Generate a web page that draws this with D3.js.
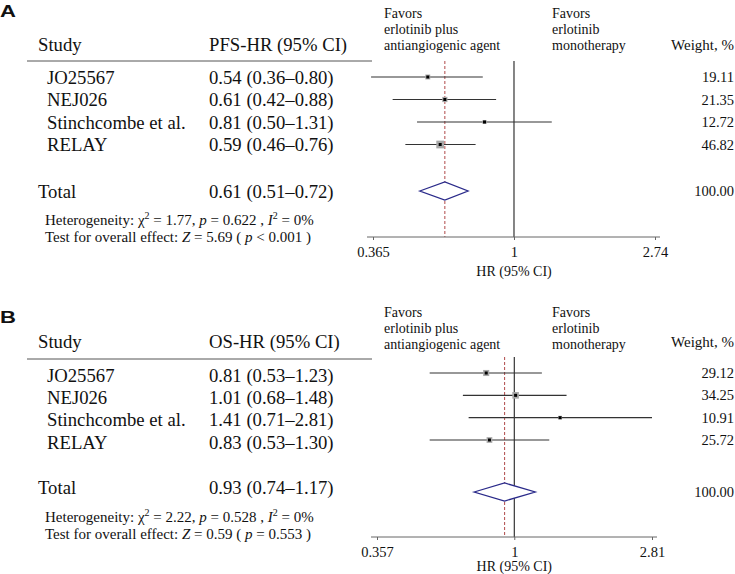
<!DOCTYPE html>
<html><head><meta charset="utf-8">
<script src="https://cdn.jsdelivr.net/npm/d3@7"></script>
<style>
html,body{margin:0;padding:0;background:#fff;}
svg{display:block;}
text{font-family:"Liberation Serif","Times New Roman",serif;fill:#111;}
</style></head>
<body>
<svg id="c" width="735" height="574"></svg>
<script>
// ---------- data ----------
const studies = ["JO25567", "NEJ026", "Stinchcombe et al.", "RELAY"];

const pfsHR = [0.54, 0.61, 0.81, 0.59];
const pfsLow = [0.36, 0.42, 0.50, 0.46];
const pfsHigh = [0.80, 0.88, 1.31, 0.76];
const pfsWeight = [19.11, 21.35, 12.72, 46.82];
const pfsTotal = [0.61, 0.51, 0.72];
const pfsTicks = [0.365, 1, 2.74];
const pfsHet = ["1.77", "0.622", "0%"];
const pfsTest = ["5.69", "<", "0.001"];

const osHR = [0.81, 1.01, 1.41, 0.83];
const osLow = [0.53, 0.68, 0.71, 0.53];
const osHigh = [1.23, 1.48, 2.81, 1.30];
const osWeight = [29.12, 34.25, 10.91, 25.72];
const osTotal = [0.93, 0.74, 1.17];
const osTicks = [0.357, 1, 2.81];
const osHet = ["2.22", "0.528", "0%"];
const osTest = ["0.59", "=", "0.553"];

const panelLabels = ["A", "B"];
const hrHeaders = ["PFS-HR (95% CI)", "OS-HR (95% CI)"];
const favorsLeft = ["Favors", "erlotinib plus", "antiangiogenic agent"];
const favorsRight = ["Favors", "erlotinib", "monotherapy"];

// ---------- layout ----------
const svg = d3.select("#c");
const fmt2 = d3.format(".2f");
const SERIF = "'Liberation Serif','Times New Roman',Times,serif";

const panels = [
  { label: panelLabels[0], header: hrHeaders[0], hr: pfsHR, lo: pfsLow, hi: pfsHigh, w: pfsWeight, total: pfsTotal, ticks: pfsTicks, het: pfsHet, test: pfsTest,
    xr: [373, 655], labelBase: 17, favBase: 18, weightBase: 50, headBase: 51, ruleY: 61, rowY: [77, 144.5], textDy: 6.5, totalY: 191, totalBase: 197.5,
    hetBase: 225, testBase: 242, axisY: 237, tickBase: 19.5, xlabBase: 276, vTop: 61 },
  { label: panelLabels[1], header: hrHeaders[1], hr: osHR, lo: osLow, hi: osHigh, w: osWeight, total: osTotal, ticks: osTicks, het: osHet, test: osTest,
    xr: [377, 652], labelBase: 323, favBase: 317, weightBase: 347, headBase: 347.5, ruleY: 359, rowY: [373, 440], textDy: 8.5, totalY: 492, totalBase: 494,
    hetBase: 522, testBase: 539, axisY: 537, tickBase: 20, xlabBase: 570.5, vTop: 357 }
];

const sizeScale = d3.scaleSqrt().domain([0, 50]).range([0, 8]);

function txt(sel, x, y, size) {
  return sel.append("text").attr("x", x).attr("y", y)
    .attr("font-family", SERIF).style("font-family", SERIF).style("font-size", size + "px");
}

panels.forEach(P => {
  const g = svg.append("g");
  const x = d3.scaleLog().domain([P.ticks[0], P.ticks[2]]).range(P.xr);
  const y = d3.scaleLinear().domain([0, studies.length - 1]).range(P.rowY);

  // panel label
  g.append("text").attr("x", 0).attr("y", P.labelBase)
    .attr("transform", `scale(1.3,1)`)
    .style("font-family", "'Liberation Sans',Arial,sans-serif").style("font-weight", "bold").style("font-size", "17px")
    .text(P.label);

  // headers
  txt(g, 38, P.headBase, 18.7).text("Study");
  txt(g, 209, P.headBase, 18.7).text(P.header);
  g.append("line").attr("x1", 27).attr("x2", 372).attr("y1", P.ruleY).attr("y2", P.ruleY)
    .attr("stroke", "#555").attr("stroke-width", 1);

  // favors
  const fl = txt(g, 384, P.favBase, 14);
  favorsLeft.forEach((t, i) => fl.append("tspan").attr("x", 384).attr("dy", i ? 16 : 0).text(t));
  const fr = txt(g, 552, P.favBase, 14);
  favorsRight.forEach((t, i) => fr.append("tspan").attr("x", 552).attr("dy", i ? 16 : 0).text(t));
  txt(g, 734, P.weightBase, 15).attr("text-anchor", "end").text("Weight, %");

  // rows text
  studies.forEach((s, i) => {
    txt(g, 47, y(i) + P.textDy, 18.7).text(s);
    txt(g, 209, y(i) + P.textDy, 18.7)
      .text(`${fmt2(P.hr[i])} (${fmt2(P.lo[i])}\u2013${fmt2(P.hi[i])})`);
    txt(g, 734, y(i) + 5, 14.5).attr("text-anchor", "end").text(fmt2(P.w[i]));
  });
  txt(g, 38, P.totalBase, 18.7).text("Total");
  txt(g, 209, P.totalBase, 18.7)
    .text(`${fmt2(P.total[0])} (${fmt2(P.total[1])}\u2013${fmt2(P.total[2])})`);
  txt(g, 734, P.totalY + 5, 14.5).attr("text-anchor", "end").text(fmt2(d3.sum(P.w)));

  // heterogeneity
  const h = txt(g, 45, P.hetBase, 15);
  h.append("tspan").text("Heterogeneity: \u03c7");
  h.append("tspan").attr("dy", -6).style("font-size", "10px").text("2");
  h.append("tspan").attr("dy", 6).text(` = ${P.het[0]}, `);
  h.append("tspan").style("font-style", "italic").text("p");
  h.append("tspan").text(` = ${P.het[1]} , `);
  h.append("tspan").style("font-style", "italic").text("I");
  h.append("tspan").attr("dy", -6).style("font-size", "10px").text("2");
  h.append("tspan").attr("dy", 6).text(` = ${P.het[2]}`);

  const t = txt(g, 45, P.testBase, 15);
  t.append("tspan").text("Test for overall effect: ");
  t.append("tspan").style("font-style", "italic").text("Z");
  t.append("tspan").text(` = ${P.test[0]} ( `);
  t.append("tspan").style("font-style", "italic").text("p");
  t.append("tspan").text(` ${P.test[1]} ${P.test[2]} )`);

  // reference lines
  g.append("line").attr("x1", x(1)).attr("x2", x(1)).attr("y1", P.vTop).attr("y2", P.axisY)
    .attr("stroke", "#222").attr("stroke-width", 1.1);
  g.append("line").attr("x1", x(P.total[0])).attr("x2", x(P.total[0])).attr("y1", P.vTop).attr("y2", P.axisY)
    .attr("stroke", "#b04848").attr("stroke-width", 1).attr("stroke-dasharray", "3,2");

  // CIs
  studies.forEach((s, i) => {
    g.append("line").attr("x1", x(P.lo[i])).attr("x2", x(P.hi[i])).attr("y1", y(i)).attr("y2", y(i))
      .attr("stroke", "#333").attr("stroke-width", 1.1);
    const sz = sizeScale(P.w[i]);
    g.append("rect").attr("x", x(P.hr[i]) - sz / 2).attr("y", y(i) - sz / 2).attr("width", sz).attr("height", sz)
      .attr("fill", "#a8a8a8");
    g.append("rect").attr("x", x(P.hr[i]) - 1.5).attr("y", y(i) - 1.5).attr("width", 3).attr("height", 3)
      .attr("fill", "#000");
  });

  // diamond
  const d = [[x(P.total[1]), P.totalY], [x(P.total[0]), P.totalY - 9], [x(P.total[2]), P.totalY], [x(P.total[0]), P.totalY + 9]];
  g.append("polygon").attr("points", d.map(p => p.join(",")).join(" "))
    .attr("fill", "#fff").attr("stroke", "#2a2a8a").attr("stroke-width", 1.3);

  // axis
  const ax = g.append("g").attr("transform", `translate(0,${P.axisY})`)
    .call(d3.axisBottom(x).tickValues(P.ticks).tickFormat(v => String(v)).tickSizeInner(3).tickSizeOuter(0));
  ax.select(".domain").remove();
  ax.insert("line", ":first-child").attr("x1", P.xr[0] - 6).attr("x2", P.xr[1] + 5)
    .attr("stroke", "#666").attr("stroke-width", 1);
  ax.selectAll(".tick line").attr("stroke", "#666");
  ax.selectAll(".tick text").attr("y", P.tickBase).attr("dy", 0)
    .attr("font-family", SERIF).style("font-family", SERIF).style("font-size", "14.5px").attr("fill", "#111");
  txt(g, x(1), P.xlabBase, 14).attr("text-anchor", "middle").text("HR (95% CI)");
});
</script>
</body></html>
